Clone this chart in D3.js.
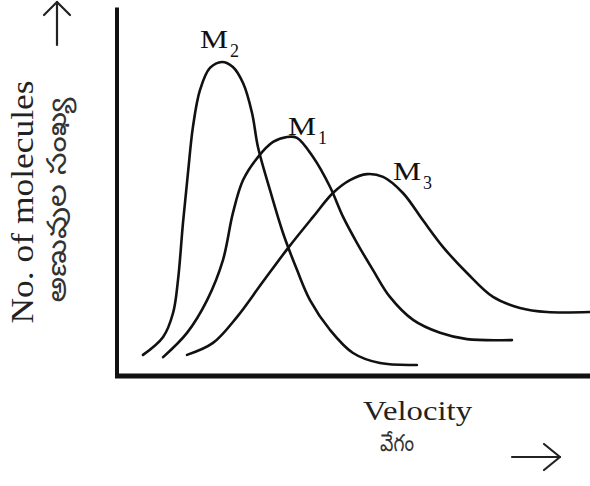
<!DOCTYPE html>
<html><head><meta charset="utf-8">
<script src="https://cdn.jsdelivr.net/npm/d3@7"></script>
<style>html,body{margin:0;padding:0;background:#fff;}svg{display:block;}
.serif{font-family:"Liberation Serif","Times New Roman",Times,serif;}
.te{font-family:"Noto Sans Telugu","Noto Sans",sans-serif;}
</style>
</head><body>
<script>
// Data (velocity in arbitrary units, number of molecules in arbitrary units)
const seriesNames = ["M2", "M1", "M3"];
const m2Velocity = [1.10,1.95,2.37,2.58,2.79,3.00,3.21,3.51,3.93,4.44,4.90,5.33,5.71,5.96,6.47,7.02,7.61,8.16,9.01,9.98,11.12,12.68];
const m2Count    = [6.7,12.4,20.0,30.5,48.6,64.4,79.0,90.8,97.8,99.7,98.1,93.0,83.5,72.7,59.0,45.4,33.7,24.1,14.6,7.3,4.1,3.5];
const m1Velocity = [1.95,2.96,3.81,4.48,4.90,5.33,5.96,6.60,7.19,7.61,8.29,9.01,9.56,10.15,10.82,11.54,12.52,13.66,14.80,16.70];
const m1Count    = [6.0,13.7,24.1,36.8,51.7,62.2,69.5,74.3,75.9,75.6,69.5,60.0,50.5,42.2,33.7,25.1,17.8,13.7,11.7,11.4];
const m3Velocity = [2.96,4.06,5.07,6.13,7.23,8.29,9.13,9.85,10.57,11.25,12.09,12.93,13.78,14.80,15.90,17.04,18.18,20.0];
const m3Count    = [6.7,10.5,18.7,29.5,40.6,50.5,58.1,62.2,64.1,63.2,58.1,49.5,41.0,32.7,25.1,21.6,20.3,20.3];
const labelMain = ["M", "M", "M"];
const labelSub  = ["2", "1", "3"];
const yTitle = "No. of molecules";
const yTitleTe = "అణువుల సంఖ్య";
const xTitle = "Velocity";
const xTitleTe = "వేగం";

const W = 590, H = 486;
const svg = d3.select("body").append("svg").attr("width", W).attr("height", H);

const x = d3.scaleLinear().domain([0, 20]).range([117, 590]);
const y = d3.scaleLinear().domain([0, 100]).range([376, 61]);
const ink = "#111";

const series = [
  {name: seriesNames[0], v: m2Velocity, n: m2Count, main: labelMain[0], sub: labelSub[0], dx: -22, dy: -14},
  {name: seriesNames[1], v: m1Velocity, n: m1Count, main: labelMain[1], sub: labelSub[1], dx: 1, dy: -2},
  {name: seriesNames[2], v: m3Velocity, n: m3Count, main: labelMain[2], sub: labelSub[2], dx: 26, dy: 6}
];

// axes
svg.append("line").attr("x1", x(0)).attr("x2", x(0)).attr("y1", y(117)).attr("y2", y(0) + 2)
  .attr("stroke", ink).attr("stroke-width", 4);
svg.append("line").attr("x1", x(0) - 2).attr("x2", x(20)).attr("y1", y(0)).attr("y2", y(0))
  .attr("stroke", ink).attr("stroke-width", 5);

// curves
const line = d3.line().x(d => x(d[0])).y(d => y(d[1])).curve(d3.curveCatmullRom.alpha(0.5));
series.forEach(s => {
  const pts = s.v.map((v, i) => [v, s.n[i]]);
  svg.append("path").attr("d", line(pts)).attr("fill", "none")
    .attr("stroke", ink).attr("stroke-width", 2.6).attr("stroke-linecap", "round");
  // label near peak
  const pk = pts.reduce((a, b) => b[1] > a[1] ? b : a);
  const lx = x(pk[0]) + s.dx, ly = y(pk[1]) + s.dy;
  const t = svg.append("text").attr("class", "serif").attr("x", lx).attr("y", ly)
    .attr("font-size", 25).attr("fill", ink);
  t.append("tspan").text(s.main).attr("textLength", 28).attr("lengthAdjust", "spacingAndGlyphs");
  t.append("tspan").text(s.sub).attr("dx", 2).attr("dy", 9).attr("font-size", 18);
});

// y titles
svg.append("text").attr("class", "serif").attr("transform", "translate(33,202) rotate(-90)")
  .attr("text-anchor", "middle")
  .attr("font-size", 31).attr("fill", "#222").attr("textLength", 243).attr("lengthAdjust", "spacingAndGlyphs")
  .text(yTitle);
svg.append("text").attr("class", "te").attr("transform", "translate(66,200) rotate(-90)")
  .attr("text-anchor", "middle")
  .attr("font-size", 27).attr("fill", "#333").attr("textLength", 205).attr("lengthAdjust", "spacingAndGlyphs")
  .text(yTitleTe);

// x titles
svg.append("text").attr("class", "serif").attr("x", 363).attr("y", 420)
  .attr("font-size", 27).attr("fill", "#222").attr("textLength", 109).attr("lengthAdjust", "spacingAndGlyphs")
  .text(xTitle);
svg.append("text").attr("class", "te").attr("x", 380).attr("y", 451)
  .attr("font-size", 24).attr("fill", "#333").attr("textLength", 34).attr("lengthAdjust", "spacingAndGlyphs")
  .text(xTitleTe);

// arrows
const arrowG = svg.append("g").attr("stroke", "#222").attr("stroke-width", 2.2).attr("fill", "none")
  .attr("stroke-linecap", "round").attr("stroke-linejoin", "round");
arrowG.append("line").attr("x1", 57).attr("y1", 45).attr("x2", 57).attr("y2", 2);
arrowG.append("path").attr("d", "M44,15 L57,2 L70,15");
arrowG.append("line").attr("x1", 512).attr("y1", 457).attr("x2", 560).attr("y2", 457);
arrowG.append("path").attr("d", "M544,444 L560,457 L544,470");
</script>
</body></html>
